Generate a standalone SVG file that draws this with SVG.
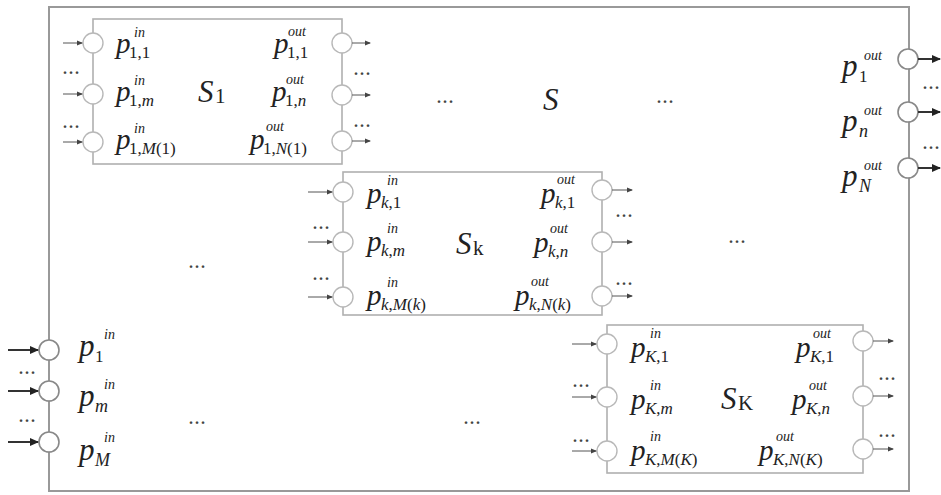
<svg xmlns="http://www.w3.org/2000/svg" width="941" height="495" viewBox="0 0 941 495">
<defs>
<marker id="ah" markerWidth="6" markerHeight="6" refX="5" refY="3" orient="auto" markerUnits="userSpaceOnUse"><path d="M0,0.5 L6,3 L0,5.5 z" fill="#444"/></marker>
<marker id="ahb" markerWidth="9" markerHeight="8" refX="8" refY="4" orient="auto" markerUnits="userSpaceOnUse"><path d="M0,0 L9,4 L0,8 z" fill="#222"/></marker>
</defs>
<style>
.box{fill:none;stroke:#b0b0b0;stroke-width:1.6}
.obox{fill:none;stroke:#999;stroke-width:2}
.port{fill:#fff;stroke:#b8b8b8;stroke-width:1.4}
.oport{fill:#fff;stroke:#888;stroke-width:1.6}
.arr{stroke:#555;stroke-width:1;marker-end:url(#ah)}
.oarr{stroke:#333;stroke-width:2;marker-end:url(#ahb)}
text, tspan{fill:#222;font-family:"Liberation Serif","DejaVu Serif","Times New Roman",serif}
.p{font-style:italic;font-size:29px}
.po{font-style:italic;font-size:31px}
.sup{font-style:italic;font-size:14px}
.sub{font-size:17px;font-style:normal}
.subo{font-size:18px;font-style:italic}
.i{font-style:italic}
.S{font-style:italic;font-size:31px}
.Ss{font-size:21px;font-style:normal}
.d{font-size:16px;letter-spacing:2px;fill:#444;text-anchor:middle;font-weight:bold}
</style>
<rect width="941" height="495" fill="#fff"/>

<g id="S">
<rect class="obox" x="49" y="7" width="860" height="484"/>
<text class="S" x="543" y="110">S</text>
<circle class="oport" cx="49" cy="350" r="10"/>
<circle class="oport" cx="49" cy="391" r="10"/>
<circle class="oport" cx="49" cy="442" r="10"/>
<circle class="oport" cx="908" cy="59" r="10"/>
<circle class="oport" cx="908" cy="112" r="10"/>
<circle class="oport" cx="908" cy="168" r="10"/>
<text><tspan class="po" x="79" y="356">p</tspan><tspan class="sup" x="104" y="339">in</tspan><tspan class="sub" x="95" y="362">1</tspan></text>
<text><tspan class="po" x="79" y="406">p</tspan><tspan class="sup" x="104" y="389">in</tspan><tspan class="subo" x="95" y="412">m</tspan></text>
<text><tspan class="po" x="79" y="460">p</tspan><tspan class="sup" x="104" y="442">in</tspan><tspan class="subo" x="95" y="466">M</tspan></text>
<text><tspan class="po" x="842" y="76">p</tspan><tspan class="sup" x="864" y="60">out</tspan><tspan class="sub" x="859" y="82">1</tspan></text>
<text><tspan class="po" x="842" y="131">p</tspan><tspan class="sup" x="864" y="115">out</tspan><tspan class="subo" x="859" y="137">n</tspan></text>
<text><tspan class="po" x="842" y="186">p</tspan><tspan class="sup" x="864" y="170">out</tspan><tspan class="subo" x="859" y="192">N</tspan></text>
<text class="d" x="446" y="103">...</text>
<text class="d" x="666" y="103">...</text>
<text class="d" x="198" y="268">...</text>
<text class="d" x="738" y="243">...</text>
<text class="d" x="198" y="424">...</text>
<text class="d" x="473" y="424">...</text>
<text class="d" x="28" y="374">...</text>
<text class="d" x="28" y="422">...</text>
<text class="d" x="932" y="89">...</text>
<text class="d" x="932" y="149">...</text>
</g>

<g id="S1">
<rect class="box" x="93" y="19" width="249" height="145"/>
<circle class="port" cx="93" cy="43" r="10"/>
<circle class="port" cx="93" cy="94" r="10"/>
<circle class="port" cx="93" cy="142" r="10"/>
<circle class="port" cx="342" cy="43" r="10"/>
<circle class="port" cx="342" cy="95" r="10"/>
<circle class="port" cx="342" cy="141" r="10"/>
<text><tspan class="p" x="116" y="53">p</tspan><tspan class="sup" x="134" y="37">in</tspan><tspan class="sub" x="129" y="58">1,1</tspan></text>
<text><tspan class="p" x="116" y="101">p</tspan><tspan class="sup" x="134" y="85">in</tspan><tspan class="sub" x="129" y="106">1,<tspan class="i">m</tspan></tspan></text>
<text><tspan class="p" x="116" y="149">p</tspan><tspan class="sup" x="134" y="133">in</tspan><tspan class="sub" x="129" y="154">1,<tspan class="i">M</tspan>(1)</tspan></text>
<text><tspan class="S" x="198" y="102">S</tspan><tspan class="Ss" x="215" y="103">1</tspan></text>
<text><tspan class="p" x="274" y="53">p</tspan><tspan class="sup" x="288" y="36">out</tspan><tspan class="sub" x="287" y="58">1,1</tspan></text>
<text><tspan class="p" x="272" y="101">p</tspan><tspan class="sup" x="286" y="84">out</tspan><tspan class="sub" x="285" y="106">1,<tspan class="i">n</tspan></tspan></text>
<text><tspan class="p" x="250" y="149">p</tspan><tspan class="sup" x="266" y="131">out</tspan><tspan class="sub" x="263" y="154">1,<tspan class="i">N</tspan>(1)</tspan></text>
<text class="d" x="72" y="74">...</text>
<text class="d" x="72" y="128">...</text>
<text class="d" x="363" y="75">...</text>
<text class="d" x="363" y="127">...</text>
</g>

<g id="Sk">
<rect class="box" x="343" y="172" width="259" height="143"/>
<circle class="port" cx="343" cy="192" r="10"/>
<circle class="port" cx="343" cy="242" r="10"/>
<circle class="port" cx="343" cy="297" r="10"/>
<circle class="port" cx="602" cy="190" r="10"/>
<circle class="port" cx="602" cy="242" r="10"/>
<circle class="port" cx="602" cy="296" r="10"/>
<text><tspan class="p" x="367" y="203">p</tspan><tspan class="sup" x="387" y="185">in</tspan><tspan class="sub" x="381" y="208"><tspan class="i">k</tspan>,1</tspan></text>
<text><tspan class="p" x="367" y="251">p</tspan><tspan class="sup" x="387" y="233">in</tspan><tspan class="sub" x="381" y="256"><tspan class="i">k</tspan>,<tspan class="i">m</tspan></tspan></text>
<text><tspan class="p" x="367" y="305">p</tspan><tspan class="sup" x="387" y="287">in</tspan><tspan class="sub" x="381" y="310"><tspan class="i">k</tspan>,<tspan class="i">M</tspan>(<tspan class="i">k</tspan>)</tspan></text>
<text><tspan class="S" x="456" y="254">S</tspan><tspan class="Ss" x="473" y="255">k</tspan></text>
<text><tspan class="p" x="541" y="203">p</tspan><tspan class="sup" x="557" y="184">out</tspan><tspan class="sub" x="555" y="208"><tspan class="i">k</tspan>,1</tspan></text>
<text><tspan class="p" x="534" y="252">p</tspan><tspan class="sup" x="550" y="233">out</tspan><tspan class="sub" x="548" y="257"><tspan class="i">k</tspan>,<tspan class="i">n</tspan></tspan></text>
<text><tspan class="p" x="515" y="305">p</tspan><tspan class="sup" x="531" y="286">out</tspan><tspan class="sub" x="529" y="310"><tspan class="i">k</tspan>,<tspan class="i">N</tspan>(<tspan class="i">k</tspan>)</tspan></text>
<text class="d" x="322" y="229">...</text>
<text class="d" x="322" y="280">...</text>
<text class="d" x="625" y="217">...</text>
<text class="d" x="625" y="285">...</text>
</g>

<g id="SK">
<rect class="box" x="607" y="325" width="256" height="148"/>
<circle class="port" cx="607" cy="344" r="10"/>
<circle class="port" cx="607" cy="397" r="10"/>
<circle class="port" cx="607" cy="451" r="10"/>
<circle class="port" cx="863" cy="341" r="10"/>
<circle class="port" cx="863" cy="396" r="10"/>
<circle class="port" cx="863" cy="449" r="10"/>
<text><tspan class="p" x="631" y="357">p</tspan><tspan class="sup" x="650" y="338">in</tspan><tspan class="sub" x="645" y="362"><tspan class="i">K</tspan>,1</tspan></text>
<text><tspan class="p" x="631" y="409">p</tspan><tspan class="sup" x="650" y="390">in</tspan><tspan class="sub" x="645" y="414"><tspan class="i">K</tspan>,<tspan class="i">m</tspan></tspan></text>
<text><tspan class="p" x="631" y="460">p</tspan><tspan class="sup" x="650" y="441">in</tspan><tspan class="sub" x="645" y="465"><tspan class="i">K</tspan>,<tspan class="i">M</tspan>(<tspan class="i">K</tspan>)</tspan></text>
<text><tspan class="S" x="721" y="409">S</tspan><tspan class="Ss" x="738" y="410">K</tspan></text>
<text><tspan class="p" x="796" y="357">p</tspan><tspan class="sup" x="813" y="338">out</tspan><tspan class="sub" x="810" y="362"><tspan class="i">K</tspan>,1</tspan></text>
<text><tspan class="p" x="792" y="409">p</tspan><tspan class="sup" x="809" y="390">out</tspan><tspan class="sub" x="806" y="414"><tspan class="i">K</tspan>,<tspan class="i">n</tspan></tspan></text>
<text><tspan class="p" x="759" y="460">p</tspan><tspan class="sup" x="776" y="441">out</tspan><tspan class="sub" x="773" y="465"><tspan class="i">K</tspan>,<tspan class="i">N</tspan>(<tspan class="i">K</tspan>)</tspan></text>
<text class="d" x="582" y="387">...</text>
<text class="d" x="582" y="442">...</text>
<text class="d" x="888" y="380">...</text>
<text class="d" x="888" y="437">...</text>
</g>

<g id="connectors">
<line class="arr" x1="63" y1="43" x2="82" y2="43"/>
<line class="arr" x1="63" y1="94" x2="82" y2="94"/>
<line class="arr" x1="63" y1="142" x2="82" y2="142"/>
<line class="arr" x1="352" y1="43" x2="370" y2="43"/>
<line class="arr" x1="352" y1="95" x2="370" y2="95"/>
<line class="arr" x1="352" y1="141" x2="370" y2="141"/>
<line class="arr" x1="308" y1="192" x2="332" y2="192"/>
<line class="arr" x1="308" y1="242" x2="332" y2="242"/>
<line class="arr" x1="308" y1="297" x2="332" y2="297"/>
<line class="arr" x1="612" y1="190" x2="632" y2="190"/>
<line class="arr" x1="612" y1="242" x2="632" y2="242"/>
<line class="arr" x1="612" y1="296" x2="632" y2="296"/>
<line class="arr" x1="572" y1="344" x2="596" y2="344"/>
<line class="arr" x1="572" y1="397" x2="596" y2="397"/>
<line class="arr" x1="572" y1="451" x2="596" y2="451"/>
<line class="arr" x1="873" y1="341" x2="893" y2="341"/>
<line class="arr" x1="873" y1="396" x2="893" y2="396"/>
<line class="arr" x1="873" y1="449" x2="893" y2="449"/>
<line class="oarr" x1="8" y1="350" x2="38" y2="350"/>
<line class="oarr" x1="8" y1="391" x2="38" y2="391"/>
<line class="oarr" x1="8" y1="442" x2="38" y2="442"/>
<line class="oarr" x1="918" y1="59" x2="940" y2="59"/>
<line class="oarr" x1="918" y1="112" x2="940" y2="112"/>
<line class="oarr" x1="918" y1="168" x2="940" y2="168"/>
</g>
</svg>
